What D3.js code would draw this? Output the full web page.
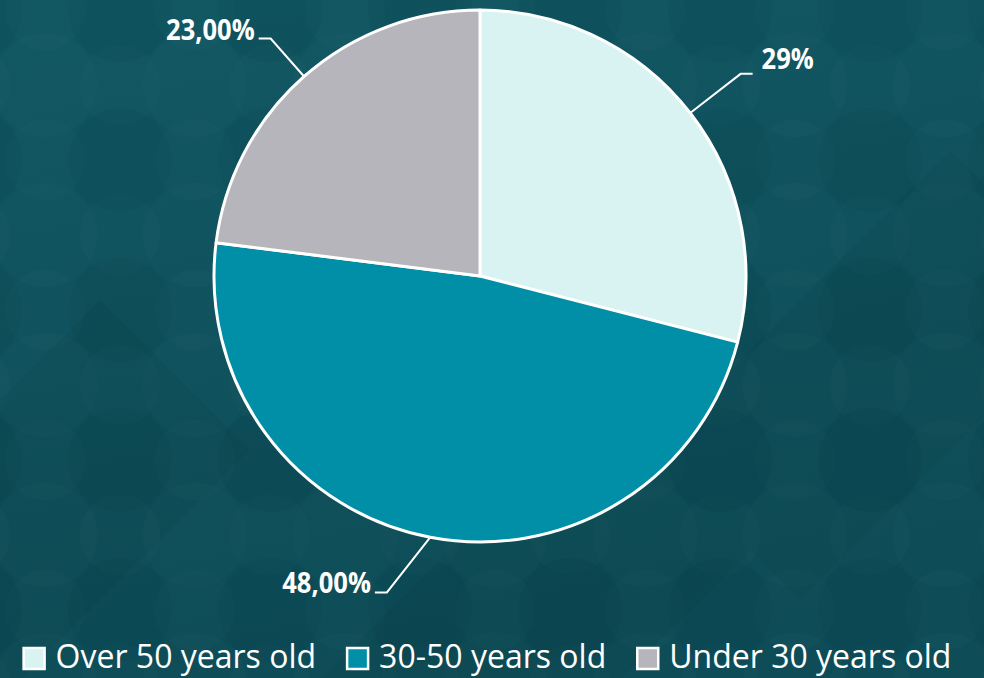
<!DOCTYPE html>
<html>
<head>
<meta charset="utf-8">
<script src="https://cdn.jsdelivr.net/npm/d3@7"></script>
<style>
  html, body { margin: 0; padding: 0; background: #0d515c; }
  svg { display: block; }
</style>
</head>
<body>
<svg id="chart"></svg>
<script>
const width = 984, height = 678;

// data
const categories = ["Over 50 years old", "30-50 years old", "Under 30 years old"];
const values = [29, 48, 23];
const labels = ["29%", "48,00%", "23,00%"];
const colors = ["#d9f3f3", "#008fa6", "#b6b5bb"];

const cx = 480, cy = 276, radius = 266;

const svg = d3.select("#chart")
    .attr("width", width)
    .attr("height", height)
    .attr("viewBox", [0, 0, width, height]);

// background: dark teal with faint circle pattern
const defs = svg.append("defs");
const grad = defs.append("linearGradient")
    .attr("id", "bg").attr("x1", 0).attr("y1", 0).attr("x2", 0.3).attr("y2", 1);
grad.append("stop").attr("offset", 0).attr("stop-color", "#0f5661");
grad.append("stop").attr("offset", 1).attr("stop-color", "#0b4b56");

const pat = defs.append("pattern")
    .attr("id", "dots").attr("patternUnits", "userSpaceOnUse")
    .attr("width", 150).attr("height", 150).attr("x", -30).attr("y", 10);
[[0, 0], [150, 0], [0, 150], [150, 150]].forEach(([x, y]) => {
  pat.append("circle").attr("cx", x).attr("cy", y).attr("r", 52)
     .attr("fill", "#000").attr("fill-opacity", 0.035);
});
pat.append("circle").attr("cx", 75).attr("cy", 75).attr("r", 52)
   .attr("fill", "#fff").attr("fill-opacity", 0.012);
[[75, 0], [0, 75], [150, 75], [75, 150]].forEach(([x, y]) => {
  pat.append("circle").attr("cx", x).attr("cy", y).attr("r", 40)
     .attr("fill", "#fff").attr("fill-opacity", 0.01);
});

svg.append("rect").attr("width", width).attr("height", height).attr("fill", "url(#bg)");
svg.append("rect").attr("width", width).attr("height", height).attr("fill", "url(#dots)");
// faint diagonal bands
const band = svg.append("g").attr("fill", "#000").attr("fill-opacity", 0.035);
[[-200, 600], [300, 700], [650, 450]].forEach(([x0, y0]) => {
  band.append("path").attr("d", `M${x0},${y0} l300,-300 l150,150 l-300,300 Z`);
});

// pie
const pie = d3.pie().sort(null).value(d => d.value);
const arcs = pie(categories.map((c, i) => ({name: c, value: values[i], label: labels[i], color: colors[i]})));

const arc = d3.arc().innerRadius(0).outerRadius(radius);

const g = svg.append("g").attr("transform", `translate(${cx},${cy})`);

g.selectAll("path.slice")
  .data(arcs)
  .join("path")
  .attr("class", "slice")
  .attr("d", arc)
  .attr("fill", d => d.data.color)
  .attr("stroke", "#fff")
  .attr("stroke-width", 3)
  .attr("stroke-linejoin", "round");

// leader lines + labels
const midAngle = d => (d.startAngle + d.endAngle) / 2;
const polar = (a, r) => [Math.sin(a) * r, -Math.cos(a) * r];
const elbowFactor = [1.24, 1.24, 1.19];
const elbowShift = [0, 5.6, 0].map(v => v * Math.PI / 180);

arcs.forEach((d, i) => {
  const a = midAngle(d);
  const p0 = polar(a, radius);
  const p1 = polar(a + elbowShift[i], radius * elbowFactor[i]);
  const right = Math.sin(a) > 0;
  const p2 = [p1[0] + (right ? 12 : -12), p1[1]];

  g.append("polyline")
    .attr("points", [p0, p1, p2].map(p => p.join(",")).join(" "))
    .attr("fill", "none")
    .attr("stroke", "#fff")
    .attr("stroke-width", 2);

  const tx = p2[0] + (right ? 9 : -4);
  const ty = p2[1] + (right ? -5 : 1);
  g.append("text")
    .attr("transform", `translate(${tx},${ty}) scale(0.88,1)`)
    .attr("text-anchor", right ? "start" : "end")
    .attr("fill", "#fff")
    .attr("font-family", "'Open Sans', sans-serif")
    .attr("font-weight", 700)
    .attr("font-size", 29)
    .text(d.data.label);
});

// legend
const legend = svg.append("g");
const sq = 23, gapText = 10, gapItem = 30, sx = 0.97;
const items = legend.selectAll("g")
  .data(arcs)
  .join("g");

items.append("rect")
  .attr("width", sq - 2).attr("height", sq - 2)
  .attr("x", 1).attr("y", 1)
  .attr("fill", d => d.data.color)
  .attr("stroke", "#fff")
  .attr("stroke-width", 2.5);

items.append("text")
  .attr("transform", `translate(${sq + gapText},${sq - 2}) scale(${sx},1)`)
  .attr("fill", "#fff")
  .attr("font-family", "'Open Sans', sans-serif")
  .attr("font-weight", 400)
  .attr("font-size", 33)
  .text(d => d.data.name);

const widths = [];
items.each(function() {
  const w = sq + gapText + d3.select(this).select("text").node().getComputedTextLength() * sx;
  widths.push(w);
});
const total = d3.sum(widths) + gapItem * (widths.length - 1);
let x0 = 487 - total / 2;
items.attr("transform", (d, i) => {
  const t = `translate(${x0},647)`;
  x0 += widths[i] + gapItem;
  return t;
});
</script>
</body>
</html>
